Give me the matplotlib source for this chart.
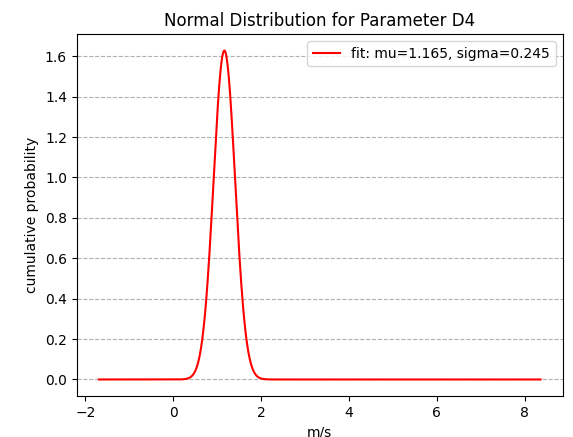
import numpy as np
import matplotlib
matplotlib.use("Agg")
import matplotlib.pyplot as plt

# fitted parameters (from legend) and plotted x range
mu = 1.165
sigma = 0.245
x_start = -1.69
x_end = 8.36

x = np.linspace(x_start, x_end, 1000)
y = np.exp(-0.5 * ((x - mu) / sigma) ** 2) / (sigma * np.sqrt(2 * np.pi))

fig, ax = plt.subplots(figsize=(5.73, 4.37), dpi=100)
fig.subplots_adjust(left=0.134, right=0.982, top=0.922, bottom=0.094)
ax.plot(x, y, "r-", label="fit: mu={:.3f}, sigma={:.3f}".format(mu, sigma))
ax.set_title("Normal Distribution for Parameter D4")
ax.set_xlabel("m/s")
ax.set_ylabel("cumulative probability")
ax.grid(axis="y", linestyle="--", color="#b0b0b0")
ax.legend(loc="upper right")
fig.savefig("out.png")
